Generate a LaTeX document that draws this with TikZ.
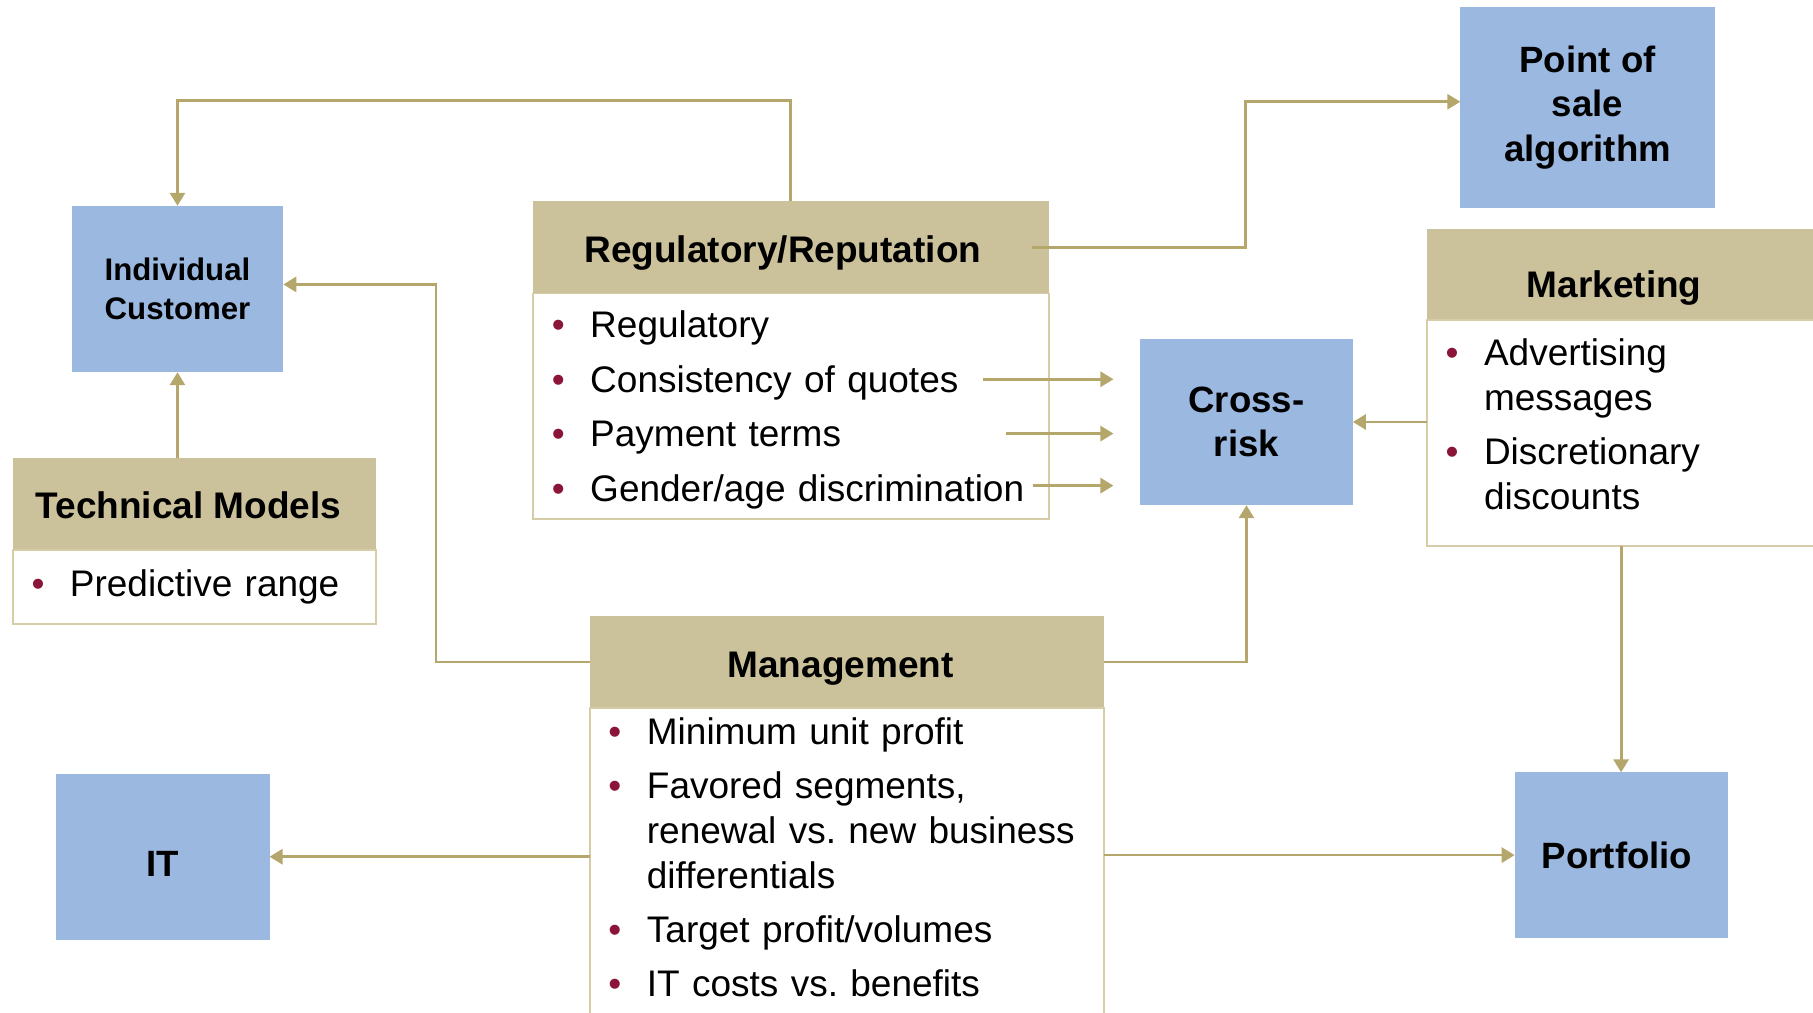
\documentclass[tikz,border=0pt]{standalone}
\usepackage{fontspec}
\setmainfont{Liberation Sans}
\usepackage{xcolor}
\usepackage{tikz}
\usetikzlibrary{arrows.meta,positioning}

\definecolor{hdrtan}{HTML}{CBC29B}
\definecolor{frametan}{HTML}{D6CDA8}
\definecolor{linktan}{HTML}{B5A76B}
\definecolor{boxblue}{HTML}{9BB8E0}
\definecolor{bulletred}{HTML}{8B1538}

\newcommand{\bitem}[1]{\hangindent=28.6pt\noindent\makebox[28.6pt][l]{\hspace{9.4pt}\textcolor{bulletred}{\textbullet}}#1\par}

\begin{document}
\begin{tikzpicture}[
    x=0.5781pt, y=-0.5781pt,
    hdr/.style={fill=hdrtan, anchor=north west, inner sep=0pt, outer sep=0pt,
    text height=15.6pt, text depth=0pt, font=\fontsize{18.5}{22}\selectfont\bfseries},
    body/.style={draw=frametan, line width=0.85pt, fill=white, inner xsep=0pt,
    inner ysep=0pt, outer sep=0pt, align=left,
    font=\fontsize{18.5}{22.3}\selectfont,
    execute at begin node={\setlength{\parskip}{4.9pt}}},
    bluebox/.style={fill=boxblue, anchor=north west, align=center, inner sep=0pt,
    outer sep=0pt, font=\fontsize{18.3}{22.3}\selectfont\bfseries},
    arr/.style={-{Triangle[length=6.5pt,width=7.5pt]}, draw=linktan, line width=1.4pt}
]
\useasboundingbox (0,0) rectangle (1568,876);

\node[bluebox, minimum width=127.2pt, minimum height=100.6pt] (pos) at (1263,6) {Point of\\sale\\algorithm};
\node[bluebox, minimum width=105.8pt, minimum height=83.2pt,
    font=\fontsize{15.6}{19.7}\selectfont\bfseries] (cust) at (62,178) {Individual\\Customer};
\node[bluebox, minimum width=106.4pt, minimum height=83.2pt] (risk) at (986,293) {Cross-\\risk};
\node[bluebox, minimum width=107pt, minimum height=83.2pt, text height=20.2pt, text depth=0pt] (it) at (48,669) {IT};
\node[bluebox, minimum width=106.4pt, minimum height=82.7pt] (port) at (1310,668) {Portfolio\hspace*{4pt}};

\node[hdr, minimum width=257.8pt, minimum height=46.2pt] (regh) at (461,174) {Regulatory/Reputation\hspace*{8pt}};
\node[body, text width=257.8pt, minimum height=112.7pt, below=0pt of regh] (regb)
    {\bitem{Regulatory\rule{0pt}{17pt}}\bitem{Consistency of quotes}\bitem{Payment terms}%
    \bitem{Gender/age discrimination}};

\node[hdr, minimum width=181.5pt, minimum height=46.2pt, text height=14.6pt] (techh) at (11,396) {Technical Models\hspace*{5.8pt}};
\node[body, text width=181.5pt, minimum height=37pt, below=0pt of techh] (techb)
    {\bitem{Predictive range}};

\node[hdr, minimum width=219.7pt, minimum height=45.7pt, text height=23pt] (mkth) at (1234,198) {Marketing\hspace*{32.4pt}};
\node[body, text width=219.7pt, minimum height=112.7pt, below=0pt of mkth] (mktb)
    {\bitem{Advertising\newline messages}\bitem{Discretionary\newline discounts\rule[-9.1pt]{0pt}{9.1pt}}};

\node[hdr, minimum width=257.3pt, minimum height=45.7pt] (mgth) at (510,533) {Management\hspace*{6.4pt}};
\node[body, text width=257.3pt, inner ysep=5pt, below=0pt of mgth] (mgtb)
    {\bitem{Minimum unit profit}\bitem{Favored segments,\newline renewal vs.\ new business\newline differentials}%
    \bitem{Target profit/volumes}\bitem{IT costs vs.\ benefits\rule[-80pt]{0pt}{80pt}}};

\coordinate (q1) at (850,328);
\coordinate (q2) at (870,375);
\coordinate (q3) at (893,420);
\coordinate (riskin) at ([xshift=-13.3pt]risk.west);

\draw[arr] (regh.north) -- ++(0,-87) -| (cust.north);
\draw[arr] ([xshift=-8.1pt]regh.east) -- ++(184,0) |- ([yshift=2.9pt]pos.west);
\draw[arr] (q1) -- (q1 -| riskin);
\draw[arr] (q2) -- (q2 -| riskin);
\draw[arr] (q3) -- (q3 -| riskin);
\draw[arr] (mktb.west |- risk.east) -- (risk.east);
\draw[arr] (mgth.east) -| (risk.south);
\draw[arr] (mgth.west) -- ++(-133,0) |- ([yshift=2.3pt]cust.east);
\draw[arr] (techh.north -| cust.south) -- (cust.south);
\draw[arr] (mktb.south -| port.north) -- (port.north);
\draw[arr] (mgtb.west |- it.east) -- (it.east);
\draw[arr] (mgtb.east |- port.west) -- (port.west);
\end{tikzpicture}
\end{document}
